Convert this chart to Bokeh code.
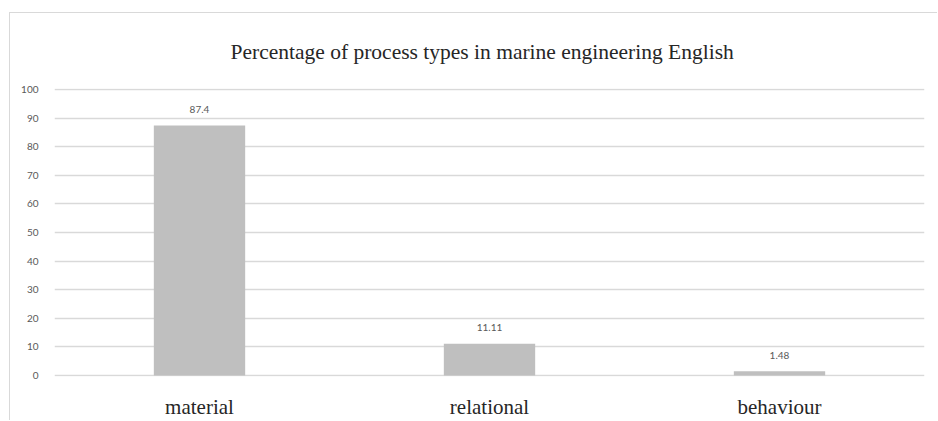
from bokeh.plotting import figure
from bokeh.models import ColumnDataSource, FactorRange, Range1d, LabelSet, FixedTicker
from bokeh.core.properties import value
from bokeh.embed import file_html
from bokeh.resources import INLINE

categories = ["material", "relational", "behaviour"]
values = [87.4, 11.11, 1.48]
value_labels = ["87.4", "11.11", "1.48"]
y_ticks = [0, 10, 20, 30, 40, 50, 60, 70, 80, 90, 100]
title_text = "Percentage of process types in marine engineering English"

source = ColumnDataSource(data=dict(cat=categories, val=values, lab=value_labels))

p = figure(
    width=928, height=408,
    x_range=FactorRange(factors=categories, range_padding=0),
    y_range=Range1d(-0.35, 100.35),
    output_backend="svg", toolbar_location=None,
    min_border_left=44, min_border_right=14, min_border_top=74, min_border_bottom=44,
    title=title_text,
)
p.margin = (12, 0, 0, 9)
p.styles = {"border-left": "1px solid #d9d9d9", "border-top": "1px solid #d9d9d9"}
p.background_fill_color = "white"
p.border_fill_color = "white"
p.outline_line_color = None

p.title.align = "left"
p.title.text_font = "Liberation Serif"
p.title.text_font_size = "21.5px"
p.title.text_font_style = "normal"
p.title.text_color = "#262626"
p.title.standoff = 49
p.title.offset = 176

p.vbar(x="cat", top="val", width=0.315, source=source, fill_color="#bfbfbf", line_color=None)

p.xgrid.grid_line_color = None
p.ygrid.grid_line_color = "#d9d9d9"
p.ygrid.grid_line_width = 1.5
p.yaxis.ticker = FixedTicker(ticks=y_ticks)

p.yaxis.axis_line_color = None
p.yaxis.major_tick_line_color = None
p.yaxis.minor_tick_line_color = None
p.yaxis.major_label_standoff = 10
p.yaxis.major_label_text_font = "Lato"
p.yaxis.major_label_text_font_size = "10px"
p.yaxis.major_label_text_color = "#595959"

p.xaxis.axis_line_color = None
p.xaxis.major_tick_line_color = None
p.xaxis.minor_tick_line_color = None
p.xaxis.major_label_standoff = 12
p.xaxis.major_label_text_font = "Liberation Serif"
p.xaxis.major_label_text_font_size = "21px"
p.xaxis.major_label_text_color = "#262626"

labels = LabelSet(x="cat", y="val", text="lab", source=source, y_offset=16,
                  text_align="center", text_baseline="middle",
                  text_font=value("Lato"), text_font_size=value("10px"), text_color=value("#595959"))
p.add_layout(labels)

open("out.html", "w").write(file_html(p, INLINE))
